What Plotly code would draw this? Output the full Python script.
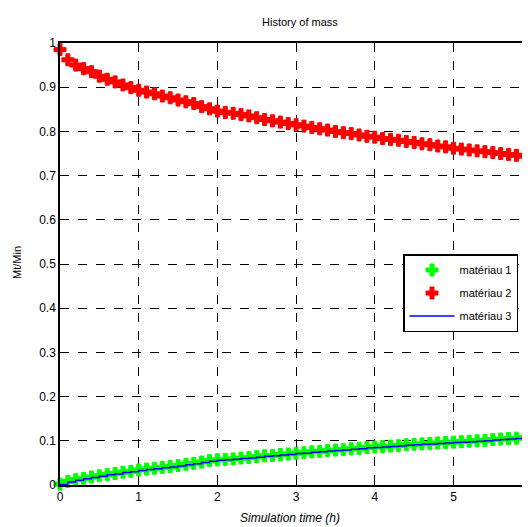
import plotly.graph_objects as go

time_h = [round(i * 0.1, 1) for i in range(61)]

materiau_2 = [0.985, 0.962, 0.950, 0.942, 0.935, 0.925, 0.918, 0.912, 0.905, 0.899,
              0.893, 0.889, 0.885, 0.880, 0.876, 0.871, 0.867, 0.863, 0.856, 0.851,
              0.846, 0.843, 0.841, 0.838, 0.835, 0.831, 0.827, 0.824, 0.821, 0.818,
              0.815, 0.812, 0.809, 0.806, 0.803, 0.800, 0.797, 0.795, 0.792, 0.789,
              0.787, 0.784, 0.782, 0.780, 0.777, 0.775, 0.772, 0.770, 0.767, 0.765,
              0.762, 0.760, 0.758, 0.756, 0.754, 0.752, 0.750, 0.748, 0.746, 0.744,
              0.742]

materiau_1 = [0.002, 0.008, 0.012, 0.015, 0.018, 0.021, 0.024, 0.026, 0.029, 0.031,
              0.034, 0.036, 0.038, 0.040, 0.042, 0.044, 0.047, 0.049, 0.052, 0.055,
              0.057, 0.058, 0.059, 0.061, 0.062, 0.064, 0.066, 0.067, 0.069, 0.070,
              0.072, 0.073, 0.075, 0.076, 0.078, 0.079, 0.080, 0.082, 0.083, 0.085,
              0.086, 0.087, 0.088, 0.089, 0.091, 0.092, 0.093, 0.094, 0.095, 0.096,
              0.097, 0.098, 0.099, 0.100, 0.101, 0.103, 0.104, 0.105, 0.106, 0.107,
              0.108]

materiau_3 = [0.001, 0.007, 0.011, 0.014, 0.017, 0.020, 0.023, 0.025, 0.028, 0.030,
              0.033, 0.035, 0.037, 0.039, 0.041, 0.043, 0.046, 0.048, 0.051, 0.054,
              0.056, 0.057, 0.058, 0.060, 0.061, 0.063, 0.065, 0.066, 0.068, 0.069,
              0.071, 0.072, 0.074, 0.075, 0.077, 0.078, 0.079, 0.081, 0.082, 0.084,
              0.085, 0.086, 0.087, 0.088, 0.090, 0.091, 0.092, 0.093, 0.094, 0.095,
              0.096, 0.097, 0.098, 0.099, 0.100, 0.102, 0.103, 0.104, 0.105, 0.106,
              0.107]

y_ticks = [0, 0.1, 0.2, 0.3, 0.4, 0.5, 0.6, 0.7, 0.8, 0.9, 1]
y_tick_labels = ["0", "0.1", "0.2", "0.3", "0.4", "0.5", "0.6", "0.7", "0.8", "0.9", "1"]
x_ticks = [0, 1, 2, 3, 4, 5, 6]

FONT = "Liberation Sans, Arial, Helvetica, sans-serif"

fig = go.Figure()
fig.add_trace(go.Scatter(
    x=time_h, y=materiau_1, mode="markers", name="matériau 1", legendgroup="g1",
    marker=dict(symbol="cross", size=10, color="#00ff00",
                line=dict(width=1, color="#00ff00")), cliponaxis=False))
fig.add_trace(go.Scatter(
    x=time_h, y=materiau_2, mode="markers", name="matériau 2", legendgroup="g2",
    marker=dict(symbol="cross", size=10, color="#ff0000",
                line=dict(width=1, color="#ff0000")), cliponaxis=False))
fig.add_trace(go.Scatter(
    x=time_h, y=materiau_3, mode="lines", name="matériau 3", legendgroup="g3",
    line=dict(color="#0000ff", width=1.5, shape="hv"), cliponaxis=False))

axis_common = dict(
    showline=True, linecolor="black", linewidth=1.5,
    ticks="inside", ticklen=5, tickcolor="black", tickwidth=1,
    showgrid=True, gridcolor="black", gridwidth=1, griddash="dash",
    zeroline=False, automargin=False,
    tickfont=dict(family=FONT, size=12, color="black"),
)

fig.update_xaxes(range=[0, 6.074], tickvals=x_ticks, mirror="ticks", **axis_common)
fig.update_yaxes(range=[0, 1], tickvals=y_ticks, ticktext=y_tick_labels, mirror=False, **axis_common)

fig.update_layout(
    width=530, height=527,
    margin=dict(l=52, r=0, t=35, b=50, autoexpand=False),
    paper_bgcolor="white", plot_bgcolor="white",
    font=dict(family=FONT, size=11, color="black"),
    showlegend=True,
    legend=dict(
        x=0.7176, y=0.5226, xanchor="left", yanchor="top",
        bgcolor="white", bordercolor="black", borderwidth=1.5,
        font=dict(family=FONT, size=11, color="black"),
        tracegroupgap=4, traceorder="grouped", itemwidth=45,
    ),
    annotations=[
        dict(text="History of mass", x=0.502, y=1.0475, xref="paper", yref="paper",
             xanchor="center", yanchor="middle", showarrow=False,
             font=dict(family=FONT, size=11, color="black")),
        dict(text="Mt/Min", x=-0.09, y=0.5045, xref="paper", yref="paper",
             xanchor="center", yanchor="middle", showarrow=False, textangle=-90,
             font=dict(family=FONT, size=11, color="black")),
        dict(text="<i>Simulation time (h)</i>", x=0.481, y=-0.0747, xref="paper", yref="paper",
             xanchor="center", yanchor="middle", showarrow=False,
             font=dict(family=FONT, size=12, color="black")),
    ],
)

fig.write_html(
    "out.html",
    post_script="document.documentElement.style.overflow='hidden';document.body.style.overflow='hidden';",
)
